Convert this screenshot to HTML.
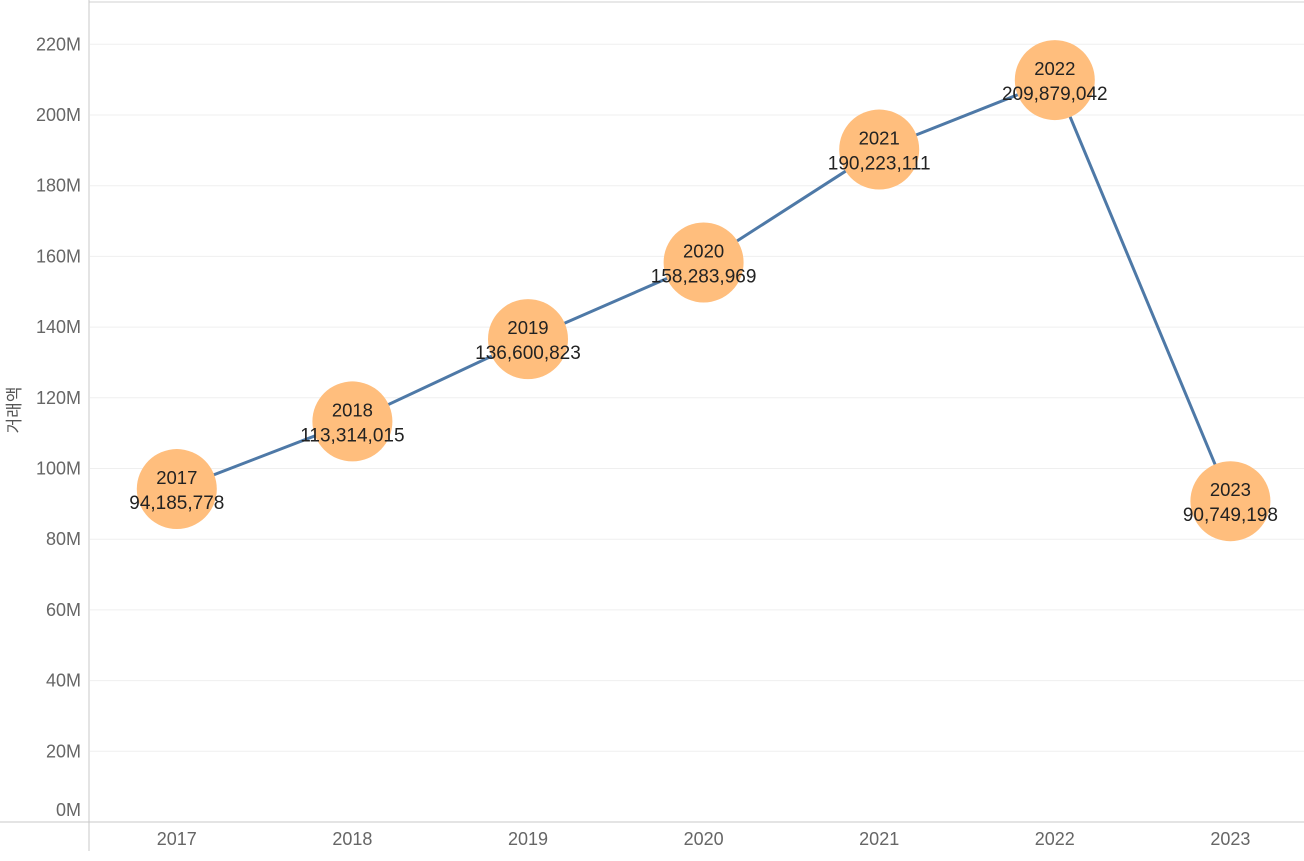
<!DOCTYPE html>
<html><head><meta charset="utf-8"><style>
html,body{margin:0;padding:0;background:#fff;}
svg{display:block;font-family:"Liberation Sans","Noto Sans CJK KR",sans-serif;}
</style></head><body>
<svg id="chart" width="1304" height="861" viewBox="0 0 1304 861">
<g id="grid"></g>
<g id="axes">
<line x1="89" y1="2" x2="1304" y2="2" stroke="#d0d0d0" stroke-width="1"/>
<line x1="89" y1="0" x2="89" y2="851" stroke="#c8c8c8" stroke-width="1"/>
<line x1="0" y1="822" x2="1304" y2="822" stroke="#c8c8c8" stroke-width="1"/>
</g>
<text transform="translate(20,410) rotate(-90)" text-anchor="middle" font-size="17" fill="#555">거래액</text>
<g id="yticks"></g>
<g id="xticks"></g>
<g id="marks"></g>
</svg>
<script>
const categories = ["2017","2018","2019","2020","2021","2022","2023"];
const values = [94185778,113314015,136600823,158283969,190223111,209879042,90749198];
const valueLabels = ["94,185,778","113,314,015","136,600,823","158,283,969","190,223,111","209,879,042","90,749,198"];
const yTicks = [0,20,40,60,80,100,120,140,160,180,200,220];
const yTickLabels = ["0M","20M","40M","60M","80M","100M","120M","140M","160M","180M","200M","220M"];

const NS = "http://www.w3.org/2000/svg";
function y(v){ return 822 - v/1e6*3.535; }
function x(i){ return 89 + 175.6*(i+0.5); }
function mk(tag, attrs, parent){ const e=document.createElementNS(NS,tag); for(const k in attrs) e.setAttribute(k,attrs[k]); parent.appendChild(e); return e; }

const grid=document.getElementById('grid'), yt=document.getElementById('yticks'), xt=document.getElementById('xticks'), marks=document.getElementById('marks');
yTicks.forEach((t,i)=>{
  const yy=y(t*1e6);
  if(t>0){
    const g=mk('line',{x1:90,x2:1304,y1:yy,y2:yy,stroke:'#efefef','stroke-width':1},grid);
    
    
  }
  const ly = t===0 ? 816 : yy+6;
  const tx=mk('text',{x:81,y:ly,'text-anchor':'end','font-size':18,fill:'#666'},yt);
  tx.textContent=yTickLabels[i];
  
  
});
categories.forEach((c,i)=>{
  const tx=mk('text',{x:x(i),y:845,'text-anchor':'middle','font-size':18,fill:'#666'},xt);
  tx.textContent=c;
  
  
});
const pts=values.map((v,i)=>x(i)+','+y(v)).join(' ');
const line=mk('polyline',{points:pts,fill:'none',stroke:'#4e79a7','stroke-width':3,'stroke-linejoin':'round'},marks);


values.forEach((v,i)=>{
  const cx=x(i), cy=y(v);
  const c=mk('circle',{cx:cx,cy:cy,r:40,fill:'#ffbe7d'},marks);
  
  
});
values.forEach((v,i)=>{
  const cx=x(i), cy=y(v);
  const t1=mk('text',{x:cx,y:cy-5,'text-anchor':'middle','font-size':18.5,fill:'#222'},marks);
  t1.textContent=categories[i];
  
  
  const t2=mk('text',{x:cx,y:cy+20,'text-anchor':'middle','font-size':19,fill:'#222'},marks);
  t2.textContent=valueLabels[i];
  
  
});
</script>
</body></html>
